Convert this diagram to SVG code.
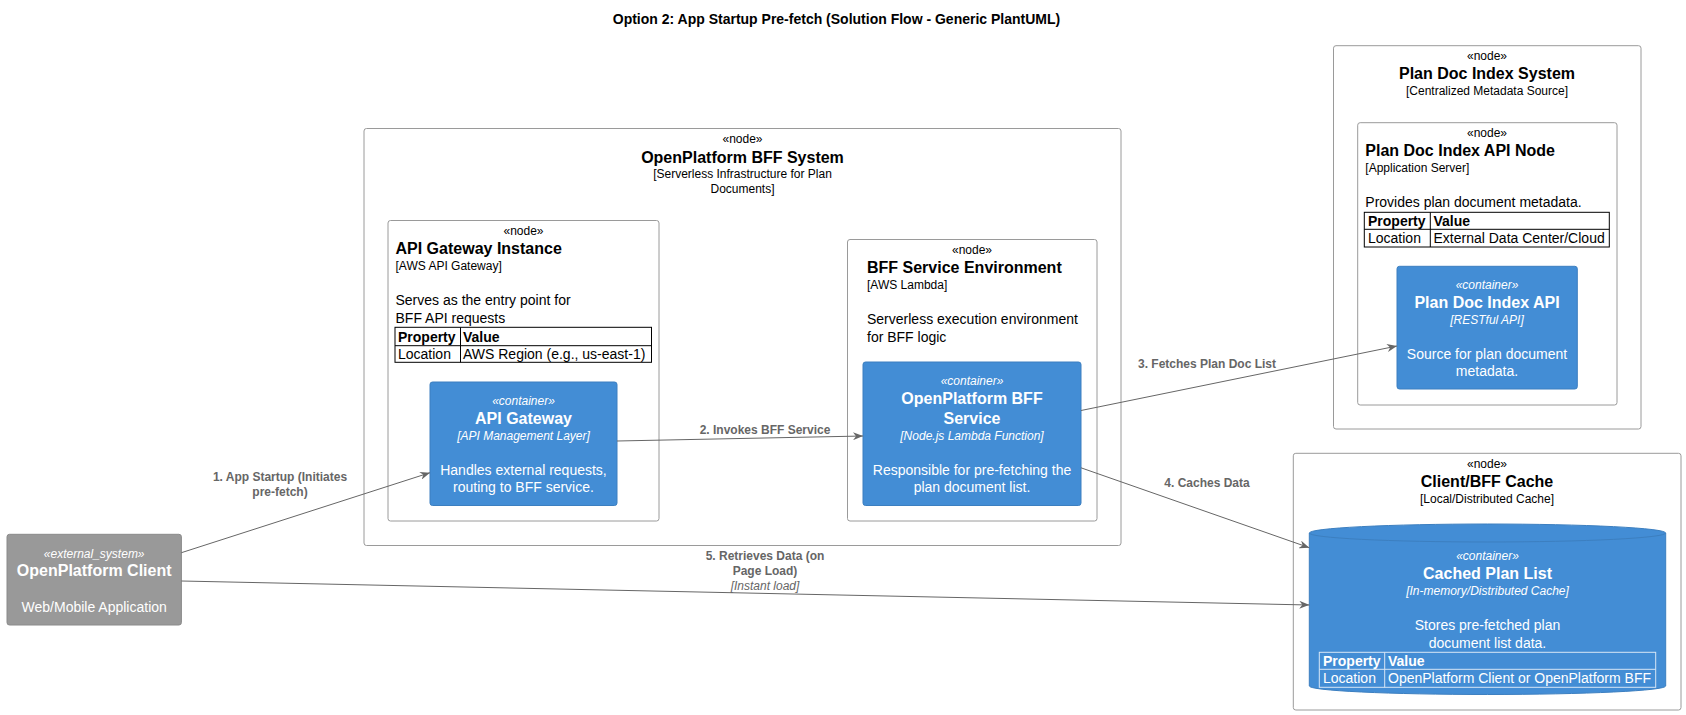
<svg xmlns="http://www.w3.org/2000/svg" width="1686" height="715" viewBox="0 0 1686 715">
<style>
text{font-family:"Liberation Sans",Arial,Helvetica,sans-serif;}
.bnd{fill:#FFFFFF;stroke:#9A9A9A;stroke-width:1;}
.cont{fill:#438DD5;stroke:#3C7FC0;stroke-width:1;}
.ext{fill:#999999;stroke:#8A8A8A;stroke-width:1;}
.st{font-size:12px;fill:#000;text-anchor:middle;}
.nm{font-size:16px;font-weight:bold;fill:#000;}
.sub{font-size:12px;fill:#000;}
.ds{font-size:14px;fill:#000;}
.c{text-anchor:middle;}
.w{fill:#FFFFFF;}
.it{font-style:italic;}
.tb{fill:none;stroke:#000;stroke-width:1;}
.tbw{fill:none;stroke:#D8E6F5;stroke-width:1;}
.lnk{stroke:#666666;stroke-width:1;fill:none;marker-end:url(#arr);}
.lbl{font-size:12px;font-weight:bold;fill:#666666;text-anchor:middle;}
.lbli{font-size:12px;font-style:italic;fill:#666666;text-anchor:middle;}
.title{font-size:14px;font-weight:bold;fill:#000;text-anchor:middle;}
</style>
<defs>
<marker id="arr" viewBox="0 0 10 8" refX="10" refY="4" markerWidth="10" markerHeight="8" markerUnits="userSpaceOnUse" orient="auto">
<path d="M0,0 L10,4 L0,8 L3,4 Z" fill="#666666"/>
</marker>
</defs>
<rect width="1686" height="715" fill="#FFFFFF"/>
<text class="title" x="836.5" y="23.5">Option 2: App Startup Pre-fetch (Solution Flow - Generic PlantUML)</text>

<g id="bff_system">
<rect class="bnd" x="364" y="128.5" width="757" height="417" rx="2.5"/>
<text class="st" x="742.5" y="143">«node»</text>
<text class="nm c" x="742.5" y="162.5">OpenPlatform BFF System</text>
<text class="sub c" x="742.5" y="178">[Serverless Infrastructure for Plan</text>
<text class="sub c" x="742.5" y="193">Documents]</text>
</g>

<g id="api_gw_instance">
<rect class="bnd" x="388" y="220.5" width="271" height="300.5" rx="2.5"/>
<text class="st" x="523.5" y="235">«node»</text>
<text class="nm" x="395.5" y="253.7">API Gateway Instance</text>
<text class="sub" x="395.5" y="270">[AWS API Gateway]</text>
<text class="ds" x="395.5" y="305">Serves as the entry point for</text>
<text class="ds" x="395.5" y="323">BFF API requests</text>
<rect class="tb" x="395" y="327.3" width="256.5" height="35"/>
<line class="tb" x1="395" y1="345.7" x2="651.5" y2="345.7"/>
<line class="tb" x1="460.5" y1="327.3" x2="460.5" y2="362.3"/>
<text class="ds" x="398" y="341.5" font-weight="bold">Property</text>
<text class="ds" x="463" y="341.5" font-weight="bold">Value</text>
<text class="ds" x="398" y="359">Location</text>
<text class="ds" x="463" y="359">AWS Region (e.g., us-east-1)</text>
</g>

<g id="api_gateway">
<rect class="cont" x="430" y="382" width="187" height="123.5" rx="2.5"/>
<text class="st w it" x="523.5" y="405">«container»</text>
<text class="nm c w" x="523.5" y="423.7">API Gateway</text>
<text class="sub c w it" x="523.5" y="440">[API Management Layer]</text>
<text class="ds c w" x="523.5" y="475">Handles external requests,</text>
<text class="ds c w" x="523.5" y="491.7">routing to BFF service.</text>
</g>

<g id="bff_env">
<rect class="bnd" x="847.5" y="239.5" width="249.5" height="281.5" rx="2.5"/>
<text class="st" x="972" y="254">«node»</text>
<text class="nm" x="867" y="273">BFF Service Environment</text>
<text class="sub" x="867" y="289">[AWS Lambda]</text>
<text class="ds" x="867" y="324.3">Serverless execution environment</text>
<text class="ds" x="867" y="342">for BFF logic</text>
</g>

<g id="bff_service">
<rect class="cont" x="863" y="362" width="218" height="143.5" rx="2.5"/>
<text class="st w it" x="972" y="385">«container»</text>
<text class="nm c w" x="972" y="404">OpenPlatform BFF</text>
<text class="nm c w" x="972" y="424">Service</text>
<text class="sub c w it" x="972" y="440">[Node.js Lambda Function]</text>
<text class="ds c w" x="972" y="475">Responsible for pre-fetching the</text>
<text class="ds c w" x="972" y="491.7">plan document list.</text>
</g>

<g id="plan_doc_system">
<rect class="bnd" x="1333.5" y="45.7" width="307.5" height="383.3" rx="2.5"/>
<text class="st" x="1487" y="60">«node»</text>
<text class="nm c" x="1487" y="79">Plan Doc Index System</text>
<text class="sub c" x="1487" y="95">[Centralized Metadata Source]</text>
</g>

<g id="plan_doc_node">
<rect class="bnd" x="1357.7" y="122.7" width="259.3" height="282.3" rx="2.5"/>
<text class="st" x="1487" y="137">«node»</text>
<text class="nm" x="1365.3" y="155.7">Plan Doc Index API Node</text>
<text class="sub" x="1365.3" y="172">[Application Server]</text>
<text class="ds" x="1365.3" y="207.3">Provides plan document metadata.</text>
<rect class="tb" x="1364.3" y="212.3" width="245" height="34.7"/>
<line class="tb" x1="1364.3" y1="229.3" x2="1609.3" y2="229.3"/>
<line class="tb" x1="1430.3" y1="212.3" x2="1430.3" y2="247"/>
<text class="ds" x="1368" y="225.8" font-weight="bold">Property</text>
<text class="ds" x="1433.5" y="225.8" font-weight="bold">Value</text>
<text class="ds" x="1368" y="243">Location</text>
<text class="ds" x="1433.5" y="243">External Data Center/Cloud</text>
</g>

<g id="plan_doc_api">
<rect class="cont" x="1397" y="266.3" width="180.3" height="122.7" rx="2.5"/>
<text class="st w it" x="1487" y="289">«container»</text>
<text class="nm c w" x="1487" y="308">Plan Doc Index API</text>
<text class="sub c w it" x="1487" y="323.5">[RESTful API]</text>
<text class="ds c w" x="1487" y="359">Source for plan document</text>
<text class="ds c w" x="1487" y="376.3">metadata.</text>
</g>

<g id="cache_node">
<rect class="bnd" x="1293.3" y="453.3" width="387.7" height="256.7" rx="2.5"/>
<text class="st" x="1487" y="468">«node»</text>
<text class="nm c" x="1487" y="486.7">Client/BFF Cache</text>
<text class="sub c" x="1487" y="502.5">[Local/Distributed Cache]</text>
</g>

<g id="cached_plan_list">
<path class="cont" d="M1309.3,533 A178.2,9 0 0 1 1665.7,533 L1665.7,686 A178.2,8.5 0 0 1 1309.3,686 Z"/>
<path d="M1309.3,533 A178.2,9 0 0 0 1665.7,533" fill="none" stroke="#3C7FC0" stroke-width="1"/>
<text class="st w it" x="1487.5" y="560">«container»</text>
<text class="nm c w" x="1487.5" y="579">Cached Plan List</text>
<text class="sub c w it" x="1487.5" y="595">[In-memory/Distributed Cache]</text>
<text class="ds c w" x="1487.5" y="630.3">Stores pre-fetched plan</text>
<text class="ds c w" x="1487.5" y="647.7">document list data.</text>
<rect class="tbw" x="1319.3" y="652.3" width="336.4" height="35"/>
<line class="tbw" x1="1319.3" y1="669.3" x2="1655.7" y2="669.3"/>
<line class="tbw" x1="1384.7" y1="652.3" x2="1384.7" y2="687.3"/>
<text class="ds w" x="1323" y="665.8" font-weight="bold">Property</text>
<text class="ds w" x="1388" y="665.8" font-weight="bold">Value</text>
<text class="ds w" x="1323" y="683.3">Location</text>
<text class="ds w" x="1388" y="683.3">OpenPlatform Client or OpenPlatform BFF</text>
</g>

<g id="openplatform_client">
<rect class="ext" x="7" y="534.3" width="174.4" height="90.7" rx="2.5"/>
<text class="st w it" x="94.2" y="557.9">«external_system»</text>
<text class="nm c w" x="94.2" y="576.4">OpenPlatform Client</text>
<text class="ds c w" x="94.2" y="611.7">Web/Mobile Application</text>
</g>

<g id="connectors">
<path class="lnk" d="M181.4,552.7 L430,472.7"/>
<text class="lbl" x="280" y="481">1. App Startup (Initiates</text>
<text class="lbl" x="280" y="496">pre-fetch)</text>
<path class="lnk" d="M617,441 L863,436"/>
<text class="lbl" x="765" y="434">2. Invokes BFF Service</text>
<path class="lnk" d="M1081,410.5 L1397,346"/>
<text class="lbl" x="1207" y="367.5">3. Fetches Plan Doc List</text>
<path class="lnk" d="M1081,467.8 L1309.3,547.7"/>
<text class="lbl" x="1207" y="487">4. Caches Data</text>
<path class="lnk" d="M181.4,581 L1309.3,605"/>
<text class="lbl" x="765" y="559.5">5. Retrieves Data (on</text>
<text class="lbl" x="765" y="574.5">Page Load)</text>
<text class="lbli" x="765" y="589.5">[Instant load]</text>
</g>
</svg>
